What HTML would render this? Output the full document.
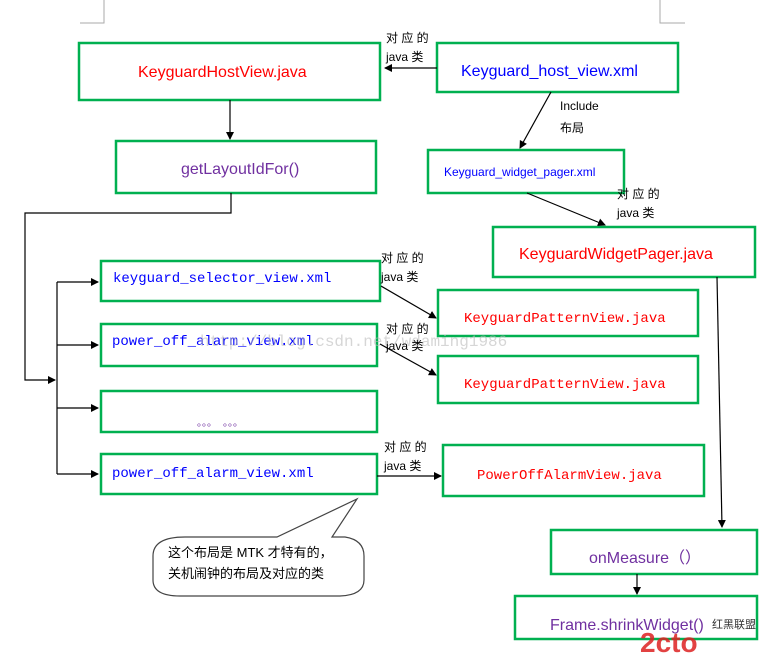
<!DOCTYPE html>
<html><head><meta charset="utf-8"><style>
html,body{margin:0;padding:0;background:#fff;width:765px;height:658px;overflow:hidden}
svg{display:block}
.s{font-family:"Liberation Sans","Noto Sans CJK SC",sans-serif}
.m{font-family:"Liberation Mono","Noto Sans CJK SC",monospace}
.b{fill:none;stroke:#00b050;stroke-width:2.5}
.l{stroke:#000;stroke-width:1.2;fill:none}
</style></head><body>
<svg width="765" height="658" viewBox="0 0 765 658">
<defs><marker id="a" markerWidth="8" markerHeight="8" refX="7" refY="4" orient="auto" markerUnits="userSpaceOnUse"><path d="M0,0 L8,4 L0,8z" fill="#000"/></marker></defs>
<path d="M104,0V23H80M660,0V23H685" stroke="#aaa" fill="none"/>
<!-- boxes -->
<rect class="b" x="79" y="43" width="301" height="57"/>
<rect class="b" x="437" y="43" width="241" height="49"/>
<rect class="b" x="116" y="141" width="260" height="52"/>
<rect class="b" x="428" y="150" width="196" height="43"/>
<rect class="b" x="493" y="227" width="262" height="50"/>
<rect class="b" x="101" y="261" width="279" height="40"/>
<rect class="b" x="438" y="290" width="260" height="46"/>
<rect class="b" x="101" y="324" width="276" height="42"/>
<rect class="b" x="438" y="356" width="260" height="47"/>
<rect class="b" x="101" y="391" width="276" height="41"/>
<rect class="b" x="101" y="454" width="276" height="40"/>
<rect class="b" x="443" y="445" width="261" height="51"/>
<rect class="b" x="551" y="530" width="206" height="44"/>
<rect class="b" x="515" y="596" width="242" height="43"/>
<!-- texts -->
<g class="s" font-size="16">
<text x="138" y="77" fill="#f00">KeyguardHostView.java</text>
<text x="461" y="76" fill="#00f">Keyguard_host_view.xml</text>
<text x="181" y="174" fill="#7030a0">getLayoutIdFor()</text>
<text x="444" y="176" fill="#00f" font-size="12">Keyguard_widget_pager.xml</text>
<text x="519" y="259" fill="#f00">KeyguardWidgetPager.java</text>
<text x="589" y="563" fill="#7030a0">onMeasure（）</text>
<text x="550" y="630" fill="#7030a0">Frame.shrinkWidget()</text>
</g>
<g class="m" font-size="14">
<text x="113" y="282" fill="#00f">keyguard_selector_view.xml</text>
<text x="112" y="345" fill="#00f">power_off_alarm_view.xml</text>
<text x="112" y="477" fill="#00f">power_off_alarm_view.xml</text>
<text x="464" y="322" fill="#f00">KeyguardPatternView.java</text>
<text x="464" y="388" fill="#f00">KeyguardPatternView.java</text>
<text x="477" y="479" fill="#f00">PowerOffAlarmView.java</text>
<text x="197" y="426" fill="#7030a0" font-size="10">。。。  。。。</text>
</g>
<text x="200" y="346" class="m" font-size="16" fill="#bbb" opacity="0.6">http://blog.csdn.net/wdaming1986</text>
<!-- labels -->
<g class="s" font-size="12" fill="#000">
<text x="386" y="42">对 应 的</text><text x="386" y="61">java 类</text>
<text x="560" y="110">Include</text><text x="560" y="132">布局</text>
<text x="617" y="198">对 应 的</text><text x="617" y="217">java 类</text>
<text x="381" y="262">对 应 的</text><text x="381" y="281">java 类</text>
<text x="386" y="333">对 应 的</text><text x="386" y="350">java 类</text>
<text x="384" y="451">对 应 的</text><text x="384" y="470">java 类</text>
</g>
<!-- connectors -->
<path class="l" d="M437,68H385" marker-end="url(#a)"/>
<path class="l" d="M230,100V139" marker-end="url(#a)"/>
<path class="l" d="M551,92L520,148" marker-end="url(#a)"/>
<path class="l" d="M527,193L605,225" marker-end="url(#a)"/>
<path class="l" d="M231,193V213H25V380H55" marker-end="url(#a)"/>
<path class="l" d="M57,282V474"/>
<path class="l" d="M57,282H98" marker-end="url(#a)"/>
<path class="l" d="M57,345H98" marker-end="url(#a)"/>
<path class="l" d="M57,408H98" marker-end="url(#a)"/>
<path class="l" d="M57,474H98" marker-end="url(#a)"/>
<path class="l" d="M381,286L436,318" marker-end="url(#a)"/>
<path class="l" d="M380,344L436,375" marker-end="url(#a)"/>
<path class="l" d="M377,476H441" marker-end="url(#a)"/>
<path class="l" d="M717,277L722,527" marker-end="url(#a)"/>
<path class="l" d="M637,574V594" marker-end="url(#a)"/>
<!-- callout -->
<path d="M185,537H277L357,499L332,537H345Q364,540 364,556V580Q364,595 340,596H180Q153,596 153,580V556Q153,537 185,537Z" fill="#fff" stroke="#444" stroke-width="1.2"/>
<text x="168" y="557" class="s" font-size="13">这个布局是 MTK 才特有的，</text>
<text x="168" y="578" class="s" font-size="13">关机闹钟的布局及对应的类</text>
<text x="640" y="652" class="s" font-size="28" font-weight="bold" fill="#d22" opacity="0.85">2cto</text>
<text x="712" y="628" class="s" font-size="11" fill="#333">红黑联盟</text>
</svg>
</body></html>
